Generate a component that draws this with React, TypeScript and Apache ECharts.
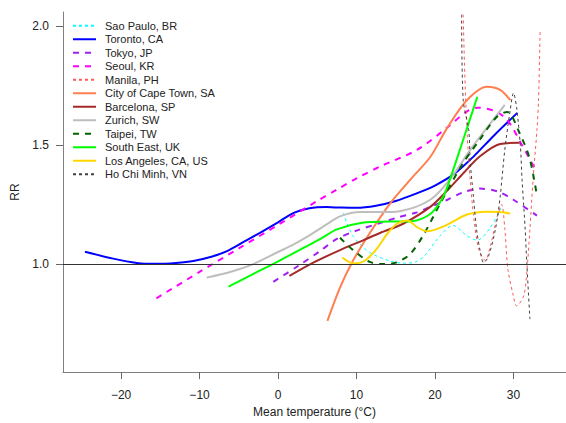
import React, { useEffect, useRef } from "react";
import * as echarts from "echarts";

// x = mean temperature (°C), y = RR
const saoPaulo: number[][] = [[8.3,1.215],[9.6,1.115],[11.7,1.048],[14.3,1.012],[16,1.003],[17.5,1.008],[18.7,1.035],[20.6,1.116],[22.3,1.162],[24.1,1.118],[25.4,1.10],[27,1.15],[28.5,1.24]];
const toronto: number[][] = [[-24.6,1.051],[-21,1.022],[-18,1.004],[-15.5,1.0],[-13,1.004],[-10.8,1.012],[-8.5,1.03],[-6.5,1.054],[-4.5,1.09],[-2.3,1.131],[0,1.175],[2,1.215],[4,1.234],[6.2,1.239],[8,1.237],[10,1.236],[12.5,1.245],[15,1.265],[17.5,1.295],[20,1.33],[22.5,1.38],[25,1.455],[27.5,1.54],[30.5,1.636]];
const tokyo: number[][] = [[-0.6,0.924],[2.5,0.99],[5.4,1.055],[7.5,1.105],[10,1.14],[13,1.172],[15.2,1.195],[17.5,1.215],[19.4,1.24],[21.6,1.27],[23.5,1.3],[25.7,1.317],[28,1.305],[30,1.27],[33,1.203]];
const seoul: number[][] = [[-15.5,0.855],[-10,0.966],[-5,1.065],[0,1.164],[5,1.265],[7.5,1.313],[10,1.36],[13,1.41],[17.7,1.48],[21.6,1.575],[24,1.64],[25.4,1.658],[27.5,1.645],[29.2,1.607],[31.2,1.494],[33,1.385]];
const manila: number[][] = [[23.6,2.05],[23.8,1.8],[24.1,1.55],[24.5,1.35],[25,1.18],[25.6,1.06],[26.4,1.015],[27.1,1.08],[27.8,1.18],[28.5,1.25],[28.9,1.15],[29.3,0.977],[30,0.864],[30.4,0.823],[31.3,0.864],[31.7,0.964],[32.1,1.145],[32.5,1.355],[33,1.565],[33.2,1.69],[33.4,1.985]];
const capeTown: number[][] = [[6.3,0.76],[7.9,0.9],[9.5,1.01],[11.7,1.13],[14.3,1.255],[17,1.36],[19.4,1.45],[21.6,1.575],[24.1,1.69],[26.6,1.746],[28.3,1.733],[29.6,1.69]];
const barcelona: number[][] = [[1.45,0.949],[4.5,1.005],[7.9,1.058],[10.9,1.10],[13,1.13],[16,1.17],[19.4,1.24],[21.6,1.31],[23.7,1.385],[25.7,1.452],[28.3,1.505],[30.8,1.51]];
const zurich: number[][] = [[-9.1,0.942],[-6,0.967],[-3.1,1.0],[0,1.05],[2,1.082],[4,1.12],[6.2,1.166],[7.9,1.2],[10.5,1.218],[13,1.218],[15.5,1.222],[19.4,1.27],[22,1.36],[24.5,1.48],[26.8,1.58],[28.9,1.67]];
const taipei: number[][] = [[7.9,1.11],[9.5,1.06],[11.7,1.008],[13.5,0.999],[15,1.005],[16.8,1.04],[18.5,1.12],[20.6,1.25],[23.5,1.42],[25.7,1.523],[27.9,1.62],[29.2,1.64],[30.8,1.55],[32.1,1.44],[33,1.285]];
const southEast: number[][] = [[-6.3,0.904],[-3,0.96],[-0.6,1.0],[3,1.063],[5.4,1.105],[7.5,1.145],[10.9,1.174],[14,1.178],[17,1.18],[19.4,1.21],[21,1.28],[21.9,1.355],[23.6,1.523],[25.4,1.704]];
const losAngeles: number[][] = [[8.2,1.027],[9.6,1.002],[11,1.012],[12.5,1.06],[14,1.13],[15.2,1.17],[16.5,1.183],[17.7,1.155],[19,1.137],[21.1,1.158],[24.1,1.208],[26.6,1.22],[28.3,1.218],[29.6,1.212]];
const hoChiMinh: number[][] = [[23.4,2.05],[23.6,1.69],[24.3,1.565],[24.5,1.426],[24.9,1.284],[25.3,1.145],[25.8,1.048],[26.2,1.005],[26.8,1.03],[27.7,1.145],[28.3,1.28],[28.9,1.48],[29.6,1.65],[30,1.72],[30.4,1.66],[30.9,1.49],[31.1,1.355],[31.5,1.145],[31.7,1.006],[32.1,0.767]];

const cityNames = ["Sao Paulo, BR","Toronto, CA","Tokyo, JP","Seoul, KR","Manila, PH","City of Cape Town, SA","Barcelona, SP","Zurich, SW","Taipei, TW","South East, UK","Los Angeles, CA, US","Ho Chi Minh, VN"];
const cityData = [saoPaulo, toronto, tokyo, seoul, manila, capeTown, barcelona, zurich, taipei, southEast, losAngeles, hoChiMinh];
const cityColors = ["#00FFFF","#0000FF","#A020F0","#FF00FF","#FF5A5A","#FF7F50","#A52A2A","#BEBEBE","#006400","#00FF00","#FFD700","#404040"];
const cityStyles = ["dotted","solid","dashed","dashed","dotted","solid","solid","solid","dashed","solid","solid","dotted"];

const xTicks = [-20, -10, 0, 10, 20, 30];
const yTicks = [1.0, 1.5, 2.0];

const FONT = "Liberation Sans, Arial, sans-serif";

export default function App() {
  const ref = useRef<HTMLDivElement>(null);
  useEffect(() => {
    if (!ref.current) return;
    const chart = echarts.init(ref.current, undefined, { renderer: "svg" });
    const series: any[] = cityNames.map((name, i) => {
      const st = cityStyles[i];
      const dash = st === "dashed" ? [6, 6] : st === "dotted" ? [3, 3] : "solid";
      return {
        name,
        type: "line",
        data: cityData[i],
        smooth: 0.3,
        symbol: "none",
        showSymbol: false,
        clip: true,
        lineStyle: { color: cityColors[i], width: st === "dotted" ? 1 : 2, type: dash },
        itemStyle: { color: cityColors[i] },
        markLine: i === 0 ? {
          silent: true,
          symbol: "none",
          label: { show: false },
          lineStyle: { color: "#333", width: 1, type: "solid" },
          data: [{ yAxis: 1 }],
        } : undefined,
      };
    });
    chart.setOption({
      animation: false,
      backgroundColor: "#fff",
      grid: { left: 63, top: 12, right: 0, bottom: 50 },
      legend: {
        orient: "vertical",
        left: 72,
        top: 19,
        padding: 0,
        itemWidth: 23,
        itemHeight: 10,
        itemGap: 0,
        data: cityNames,
        itemStyle: { opacity: 0, borderWidth: 0 },
        textStyle: { fontFamily: FONT, fontSize: 11, color: "#222", lineHeight: 13.5, padding: [0, 0, 0, 4] },
      },
      xAxis: {
        type: "value",
        min: -27.4,
        max: 36.7,
        name: "Mean temperature (°C)",
        nameLocation: "middle",
        nameGap: 31,
        nameTextStyle: { fontFamily: FONT, fontSize: 12, color: "#222" },
        axisLine: { show: true, onZero: false, lineStyle: { color: "#808080", width: 1 } },
        axisTick: { show: true, length: 7, customValues: xTicks, lineStyle: { color: "#666" } },
        axisLabel: {
          customValues: xTicks,
          margin: 17,
          fontFamily: FONT,
          fontSize: 12,
          color: "#222",
          formatter: (v: number) => String(v).replace("-", "\u2212"),
        },
        splitLine: { show: false },
      },
      yAxis: {
        type: "value",
        min: 0.544,
        max: 2.061,
        name: "RR",
        nameLocation: "middle",
        nameGap: 36,
        nameTextStyle: { fontFamily: FONT, fontSize: 12, color: "#222" },
        axisLine: { show: true, onZero: false, lineStyle: { color: "#808080", width: 1 } },
        axisTick: { show: true, length: 7, customValues: yTicks, lineStyle: { color: "#666" } },
        axisLabel: {
          customValues: yTicks,
          margin: 14,
          fontFamily: FONT,
          fontSize: 12,
          color: "#222",
          formatter: (v: number) => v.toFixed(1),
        },
        splitLine: { show: false },
      },
      series,
    });
    return () => chart.dispose();
  }, []);
  return <div ref={ref} style={{ width: 566, height: 423, position: "fixed", left: 0, top: 0 }} />;
}
